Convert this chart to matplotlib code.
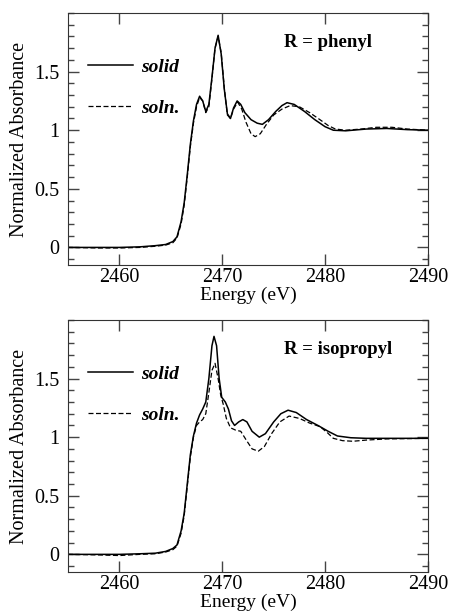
import matplotlib
matplotlib.use("Agg")
import matplotlib.pyplot as plt
from matplotlib.ticker import MultipleLocator

plt.rcParams['font.family'] = ['Liberation Serif', 'DejaVu Serif']

# --- phenyl: solid sample ---
ph_solid_e = [2455.0, 2458.0, 2460.0, 2462.0, 2463.5, 2464.5, 2465.2, 2465.6, 2466.0, 2466.3,
              2466.6, 2466.9, 2467.2, 2467.5, 2467.8, 2468.1, 2468.4, 2468.7, 2469.0, 2469.3,
              2469.6, 2469.9, 2470.2, 2470.5, 2470.8, 2471.1, 2471.45, 2471.8, 2472.2, 2472.8,
              2473.4, 2473.9, 2474.5, 2475.2, 2475.8, 2476.3, 2477.0, 2478.0, 2479.0, 2480.0,
              2480.8, 2482.0, 2484.0, 2486.0, 2488.0, 2490.0]
ph_solid_a = [0.00, 0.00, 0.00, 0.005, 0.015, 0.025, 0.05, 0.09, 0.22, 0.38,
              0.62, 0.88, 1.08, 1.22, 1.29, 1.25, 1.16, 1.22, 1.45, 1.70,
              1.81, 1.65, 1.35, 1.14, 1.10, 1.19, 1.25, 1.22, 1.15, 1.09,
              1.06, 1.05, 1.09, 1.16, 1.21, 1.235, 1.22, 1.16, 1.09, 1.03,
              1.00, 0.995, 1.01, 1.015, 1.005, 1.00]

# --- phenyl: solution ---
ph_soln_e = [2455.0, 2458.0, 2460.0, 2462.0, 2463.5, 2464.5, 2465.2, 2465.6, 2466.0, 2466.3,
             2466.6, 2466.9, 2467.2, 2467.5, 2467.8, 2468.1, 2468.4, 2468.7, 2469.0, 2469.3,
             2469.6, 2469.9, 2470.2, 2470.5, 2470.8, 2471.1, 2471.5, 2471.9, 2472.3, 2472.8,
             2473.2, 2473.7, 2474.3, 2475.0, 2475.8, 2476.6, 2477.5, 2478.5, 2479.5, 2480.3,
             2481.0, 2482.0, 2483.5, 2485.0, 2486.5, 2488.0, 2490.0]
ph_soln_a = [0.00, -0.005, -0.005, 0.0, 0.01, 0.02, 0.04, 0.08, 0.20, 0.36,
             0.60, 0.86, 1.06, 1.20, 1.28, 1.25, 1.15, 1.20, 1.44, 1.70,
             1.80, 1.66, 1.36, 1.13, 1.10, 1.18, 1.24, 1.18, 1.07, 0.97,
             0.945, 0.97, 1.05, 1.13, 1.18, 1.21, 1.20, 1.15, 1.09, 1.04,
             1.01, 1.00, 1.01, 1.025, 1.025, 1.01, 1.00]

# --- isopropyl: solid sample ---
ip_solid_e = [2455.0, 2458.0, 2460.0, 2462.0, 2463.5, 2464.5, 2465.2, 2465.6, 2466.0, 2466.3,
              2466.6, 2466.9, 2467.2, 2467.5, 2467.8, 2468.1, 2468.4, 2468.7, 2469.0, 2469.2,
              2469.45, 2469.7, 2469.95, 2470.3, 2470.6, 2470.9, 2471.2, 2471.6, 2472.0, 2472.4,
              2472.9, 2473.6, 2474.2, 2475.0, 2475.7, 2476.4, 2477.2, 2478.2, 2479.3, 2480.3,
              2481.2, 2482.5, 2484.0, 2487.0, 2490.0]
ip_solid_a = [0.00, 0.00, 0.00, 0.005, 0.01, 0.025, 0.05, 0.08, 0.20, 0.35,
              0.60, 0.85, 1.01, 1.12, 1.19, 1.24, 1.30, 1.50, 1.78, 1.86,
              1.78, 1.50, 1.34, 1.30, 1.24, 1.14, 1.10, 1.13, 1.15, 1.13,
              1.05, 1.00, 1.03, 1.13, 1.20, 1.23, 1.21, 1.15, 1.10, 1.05,
              1.01, 0.995, 0.99, 0.99, 0.99]

# --- isopropyl: solution ---
ip_soln_e = [2455.0, 2458.0, 2460.0, 2462.0, 2463.5, 2464.5, 2465.2, 2465.6, 2466.0, 2466.3,
             2466.6, 2466.9, 2467.2, 2467.5, 2467.8, 2468.1, 2468.4, 2468.7, 2469.0, 2469.3,
             2469.6, 2469.85, 2470.1, 2470.4, 2470.8, 2471.3, 2471.8, 2472.3, 2472.9, 2473.5,
             2474.1, 2474.8, 2475.6, 2476.5, 2477.5, 2478.5, 2479.5, 2480.2, 2480.8, 2481.7,
             2482.7, 2484.0, 2486.0, 2490.0]
ip_soln_a = [0.00, -0.005, -0.01, 0.0, 0.005, 0.02, 0.04, 0.07, 0.18, 0.33,
             0.58, 0.83, 1.00, 1.10, 1.13, 1.15, 1.20, 1.38, 1.57, 1.63,
             1.50, 1.36, 1.28, 1.16, 1.08, 1.06, 1.05, 0.98, 0.90, 0.88,
             0.92, 1.03, 1.13, 1.18, 1.16, 1.12, 1.09, 1.04, 0.99, 0.97,
             0.965, 0.975, 0.985, 0.99]

panels = [
    ("R = phenyl", ph_solid_e, ph_solid_a, ph_soln_e, ph_soln_a),
    ("R = isopropyl", ip_solid_e, ip_solid_a, ip_soln_e, ip_soln_a),
]

fig = plt.figure(figsize=(4.5, 6.14), dpi=100)
rects = [[0.151, 0.5684, 0.80, 0.4104], [0.151, 0.0685, 0.80, 0.4104]]

for rect, (title, se, sa, le, la) in zip(rects, panels):
    ax = fig.add_axes(rect)
    ax.plot(se, sa, color="black", lw=1.1, label="solid")
    ax.plot(le, la, color="black", lw=0.9, ls=(0, (4, 2)), label="soln.")
    ax.set_xlim(2455, 2490)
    ax.set_ylim(-0.15, 2.0)
    ax.xaxis.set_major_locator(MultipleLocator(10))
    ax.yaxis.set_minor_locator(MultipleLocator(0.1))
    ax.set_yticks([0, 0.5, 1, 1.5])
    ax.set_yticklabels(["0", "0.5", "1", "1.5"])
    ax.tick_params(which="both", direction="in", top=True, right=True, labelsize=14.5,
                   color="#444444")
    ax.tick_params(which="major", length=8, width=1)
    ax.tick_params(which="minor", length=4, width=1)
    ax.tick_params(axis="y", pad=6)
    ax.tick_params(axis="x", pad=2)
    for s in ax.spines.values():
        s.set_color("#333333")
    ax.set_xlabel("Energy (eV)", fontsize=14, labelpad=0)
    ax.set_ylabel("Normalized Absorbance", fontsize=14.5, labelpad=4)
    ax.text(0.60, 0.865, title, transform=ax.transAxes, fontsize=13.5, fontweight="bold")
    ax.legend(loc="upper left", bbox_to_anchor=(0.03, 0.86), frameon=False,
              handlelength=2.3, handletextpad=0.4, labelspacing=1.2, borderpad=0,
              prop={"style": "italic", "weight": "bold", "size": 14})

fig.savefig("out.png", dpi=100)
